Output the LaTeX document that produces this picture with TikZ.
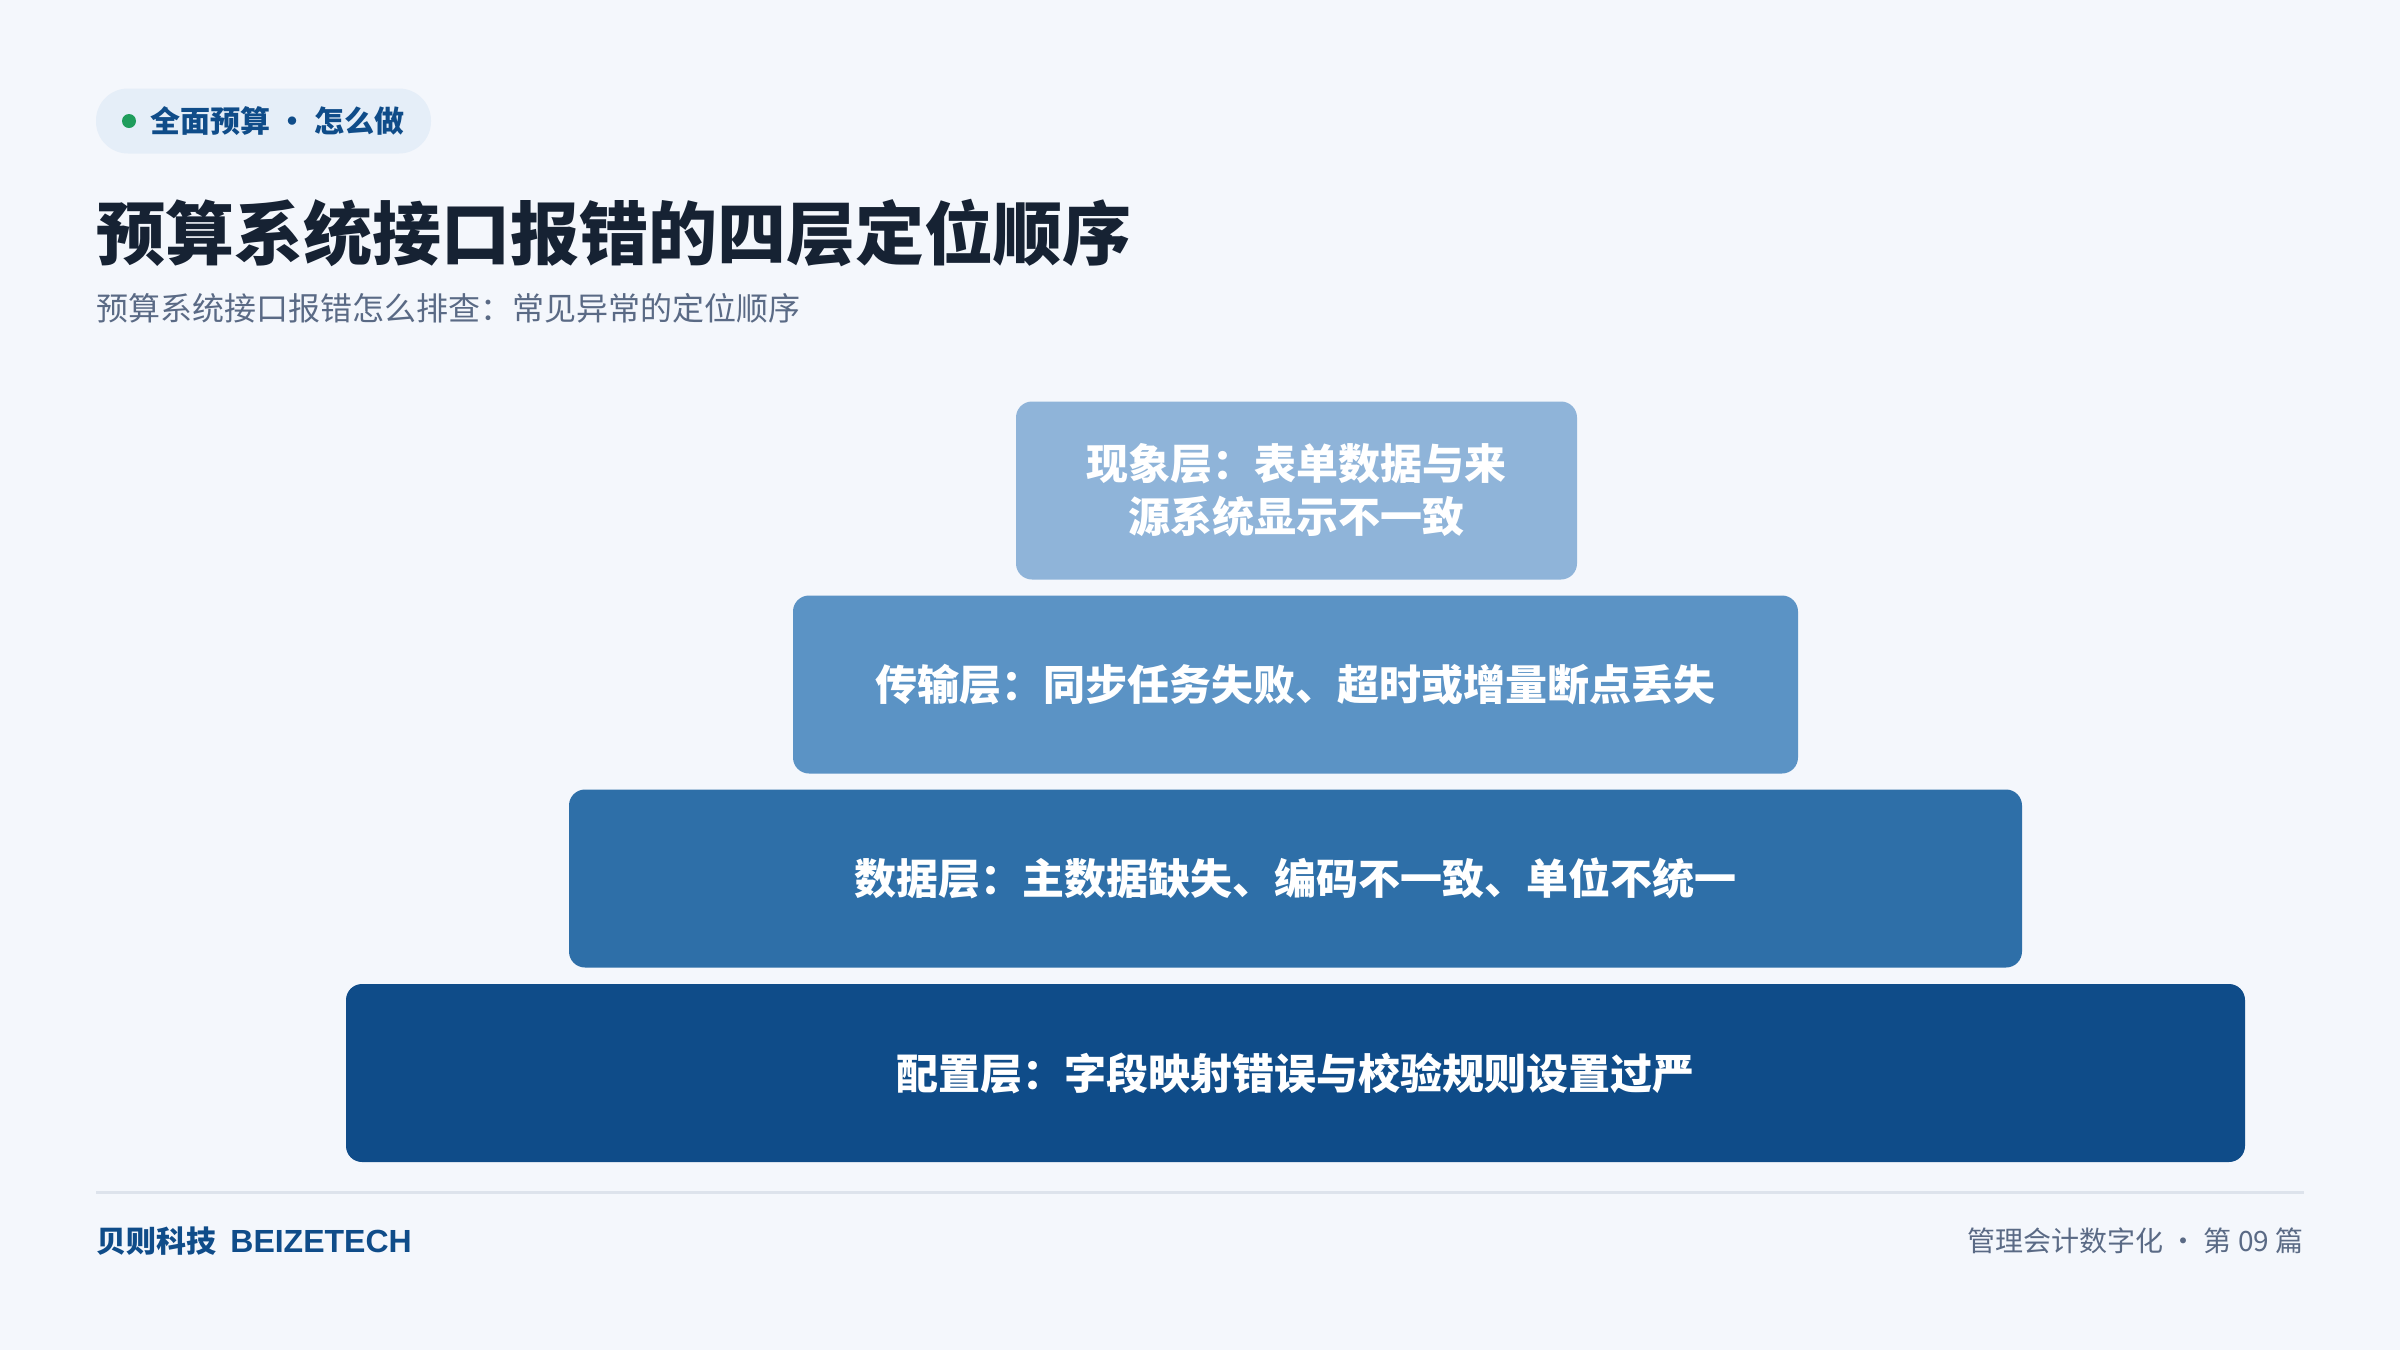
\documentclass[tikz,border=0pt]{standalone}
\usepackage{fontspec}
\setmainfont{Noto Sans CJK SC}
\newfontfamily\latinsans{Liberation Sans}
\definecolor{bg}{HTML}{F4F7FC}
\definecolor{tagbg}{HTML}{E5EEF8}
\definecolor{navy}{HTML}{0F4C89}
\definecolor{dotgreen}{HTML}{1F9D5C}
\definecolor{titlec}{HTML}{162233}
\definecolor{subc}{HTML}{5A6A85}
\definecolor{cA}{HTML}{8FB4D9}
\definecolor{cB}{HTML}{5B93C5}
\definecolor{cC}{HTML}{2E6FA8}
\definecolor{cD}{HTML}{0F4C89}
\definecolor{linec}{HTML}{DDE3EC}
\definecolor{shadowc}{HTML}{6A84AD}
\pgfdeclarelayer{background}
\pgfsetlayers{background,main}
\tikzset{
  layer/.style={rounded corners=8pt, minimum height=89pt, inner sep=0pt,
    text=white, font=\fontsize{21}{26.5}\selectfont\bfseries, align=center},
  lbl/.style={inner sep=0pt, anchor=west},
  softshadow/.style={fill=shadowc, opacity=0.02}
}
\begin{document}
\begin{tikzpicture}[x=0.5pt,y=-0.5pt]
\fill[bg] (0,0) rectangle (2400,1350);
\useasboundingbox (0,0) rectangle (2400,1350);
% tag pill
\node (tag) [fill=tagbg, rounded corners=16pt, minimum width=167.5pt, minimum height=32.5pt, inner sep=0pt] at (263.5,121) {};
\node (dot) [circle, fill=dotgreen, minimum size=7pt, inner sep=0pt] at (129,121) {};
\node (tagtext) [lbl, text=navy, font=\fontsize{15}{17}\selectfont\bfseries] at (150,121) {全面预算 · 怎么做};
% title
\node (title) [lbl, text=titlec, font=\fontsize{34.5}{42}\selectfont\bfseries] at (96,233) {预算系统接口报错的四层定位顺序};
\node (subtitle) [lbl, text=subc, font=\fontsize{16}{20}\selectfont] at (96,308) {预算系统接口报错怎么排查：常见异常的定位顺序};
% pyramid
\node (L4) [layer, fill=cD, minimum width=949.5pt] at (1295.5,1073) {配置层：字段映射错误与校验规则设置过严};
\node (L3) [layer, fill=cC, minimum width=726.5pt] at (1295.5,878.5) {数据层：主数据缺失、编码不一致、单位不统一};
\node (L2) [layer, fill=cB, minimum width=502.5pt] at (1295.5,684.5) {传输层：同步任务失败、超时或增量断点丢失};
\node (L1) [layer, fill=cA, minimum width=280.5pt] at (1296.5,490.5) {现象层：表单数据与来\\源系统显示不一致};
\begin{pgfonlayer}{background}
\foreach \n in {L1,L2,L3,L4}{
  \foreach \i in {2,4,...,24}{
    \fill[softshadow, rounded corners={8pt+0.5*\i pt}]
      ([shift={(-\i,-\i+8)}]\n.north west) rectangle ([shift={(\i,\i+8)}]\n.south east);
  }
}
\end{pgfonlayer}
% footer
\coordinate (fl) at (96,1192);
\coordinate (fr) at (2304,1192);
\draw[linec, line width=1.5pt] (fl) -- (fr);
\node (brand) [lbl, text=navy, font=\fontsize{15}{18}\selectfont\bfseries] at (96,1241) {贝则科技\hspace{7pt}{\latinsans\fontsize{16}{18}\selectfont BEIZETECH}};
\node (series) [inner sep=0pt, anchor=east, text=subc, font=\fontsize{14}{17}\selectfont] at (2304,1241) {管理会计数字化 · 第 09 篇};
\end{tikzpicture}
\end{document}
